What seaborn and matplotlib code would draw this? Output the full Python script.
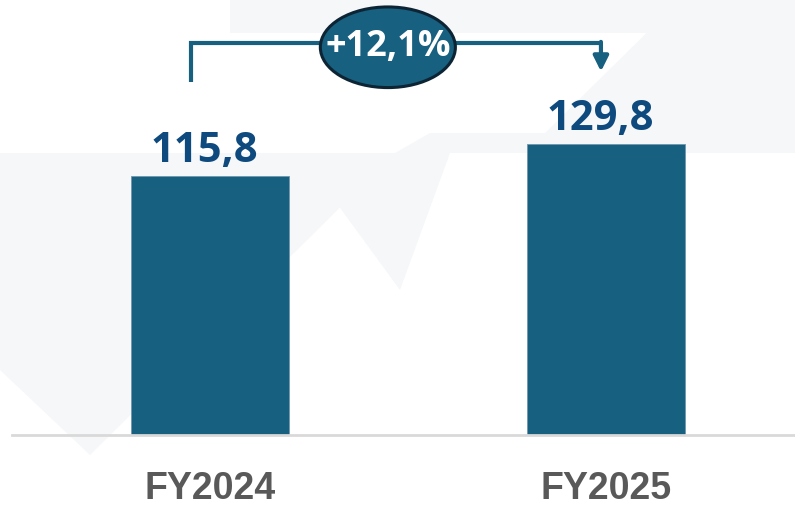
import pandas as pd
import matplotlib.pyplot as plt
import seaborn as sns
from matplotlib.patches import Ellipse, Polygon

# chart data
years = ["FY2024", "FY2025"]
revenue = [115.8, 129.8]
value_labels = ["115,8", "129,8"]
growth_label = "+12,1%"

bar_color = "#17607f"
label_color = "#0e4a7e"

df = pd.DataFrame({"year": years, "value": revenue})

sns.set_style("white")
plt.rcParams['font.family'] = ['Open Sans', 'DejaVu Sans']

fig = plt.figure(figsize=(7.95, 5.07), dpi=100)

# faint watermark shapes in the background (figure pixel coords, y from top)
W, H = 795, 507
shapes = [
    [(230, 0), (700, 0), (700, 33), (230, 33)],
    [(0, 153), (395, 153), (90, 455), (0, 370)],
    [(395, 153), (430, 133), (795, 133), (795, 153)],
    [(545, 133), (680, 0), (795, 0), (795, 133)],
    [(300, 153), (450, 153), (400, 290)],
]
for pts in shapes:
    fig.patches.append(Polygon([(x / W, 1 - y / H) for x, y in pts], closed=True,
                               transform=fig.transFigure, facecolor="#f6f7f9",
                               edgecolor="none", zorder=-5))

ax = fig.add_axes([12 / W, (H - 435) / H, (W - 12) / W, 435 / H])
ax.set_zorder(2)
ax.patch.set_alpha(0)

sns.barplot(data=df, x="year", y="value", color=bar_color, width=0.4,
            saturation=1, edgecolor="#6f96ad", linewidth=0.6, ax=ax)

ax.set_xlim(-0.5, 1.477)
ax.set_ylim(0, 194.2)

for i, (v, lab) in enumerate(zip(revenue, value_labels)):
    ax.text(i - 0.015, v + 1.8, lab, ha="center", va="bottom", fontsize=30,
            fontweight="bold", color=label_color)

# growth bracket
top = max(revenue) + 45
ax.plot([-0.048, -0.048, 0.987], [revenue[0] + 42, top, top],
        color=bar_color, lw=3, solid_capstyle="butt", solid_joinstyle="miter", zorder=3)
ax.annotate("", xy=(0.987, revenue[1] + 32.5), xytext=(0.987, top + 0.7),
            arrowprops=dict(arrowstyle="-|>,head_length=0.9,head_width=0.45",
                            color=bar_color, lw=3, shrinkA=0, shrinkB=0), zorder=3)
ell = Ellipse((0.449, top - 1.7), width=0.341, height=36, facecolor=bar_color,
              edgecolor="#0c2434", lw=2.2, zorder=4)
ax.add_patch(ell)
ax.text(0.449, top - 1.7, growth_label, ha="center", va="center", fontsize=26,
        fontweight="bold", color="white", zorder=5)

ax.set_xlabel("")
ax.set_ylabel("")
ax.set_yticks([])
ax.tick_params(axis="x", length=0, pad=26)
for t in ax.get_xticklabels():
    t.set_fontfamily("Liberation Sans")
    t.set_fontweight("bold")
    t.set_fontsize(27)
    t.set_color("#595959")

sns.despine(ax=ax, left=True)
ax.spines["bottom"].set_color("#d9d9d9")
ax.spines["bottom"].set_linewidth(2)

fig.savefig("out.png", dpi=100)
